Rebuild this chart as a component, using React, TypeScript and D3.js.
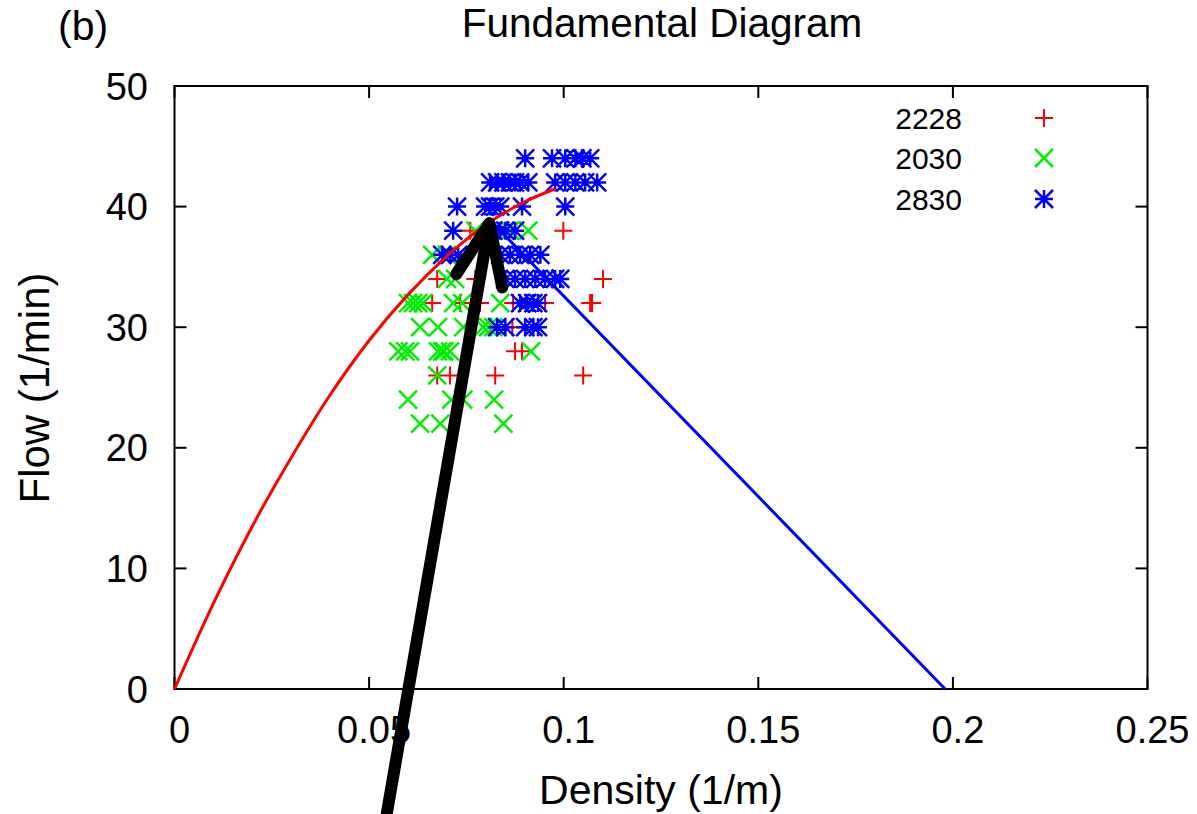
import React from "react";
import * as d3 from "d3";

// ---- data ----
const xTicks = [0, 0.05, 0.1, 0.15, 0.2, 0.25];
const xTickLabels = ["0", "0.05", "0.1", "0.15", "0.2", "0.25"];
const yTicks = [0, 10, 20, 30, 40, 50];
const yTickLabels = ["0", "10", "20", "30", "40", "50"];

const seriesNames = ["2228", "2030", "2830"];

// 2228 (red +)
const redK = [0.076, 0.0999, 0.0675, 0.0773, 0.1101, 0.0662, 0.0734, 0.0785, 0.087, 0.0952, 0.1068, 0.1073, 0.0868, 0.0875, 0.0893, 0.0675, 0.0708, 0.0824, 0.105];
const redQ = [38, 38, 34, 34, 34, 32, 32, 32, 32, 32, 32, 32, 30, 28, 28, 26, 26, 26, 26];

// 2030 (green x)
const greenK = [0.0773, 0.0862, 0.0909, 0.0662, 0.07, 0.07, 0.0721, 0.06, 0.0613, 0.0626, 0.0639, 0.0716, 0.0739, 0.0837, 0.0631, 0.0677, 0.0742, 0.0793, 0.0806, 0.0819, 0.0575, 0.0593, 0.0605, 0.0677, 0.0688, 0.0693, 0.0708, 0.0916, 0.0675, 0.06, 0.0711, 0.0742, 0.0821, 0.0631, 0.0683, 0.0845];
const greenQ = [38, 38, 38, 36, 36, 34, 34, 32, 32, 32, 32, 32, 32, 32, 30, 30, 30, 30, 30, 30, 28, 28, 28, 28, 28, 28, 28, 28, 26, 24, 24, 24, 24, 22, 22, 22];

// 2830 (blue asterisk)
const blueK = [0.0901, 0.097, 0.1004, 0.103, 0.1048, 0.1068, 0.0811, 0.0829, 0.0845, 0.0862, 0.0875, 0.0888, 0.0909, 0.0978, 0.1004, 0.103, 0.1055, 0.1086, 0.0726, 0.0798, 0.0811, 0.0824, 0.0837, 0.0893, 0.1004, 0.0716, 0.0819, 0.0837, 0.085, 0.0875, 0.0688, 0.0708, 0.0729, 0.0837, 0.0862, 0.0888, 0.0914, 0.094, 0.085, 0.0875, 0.0901, 0.0927, 0.0952, 0.0978, 0.0991, 0.0888, 0.0906, 0.0922, 0.0934, 0.0829, 0.085, 0.0901, 0.0922, 0.0934];
const blueQ = [44, 44, 44, 44, 44, 44, 42, 42, 42, 42, 42, 42, 42, 42, 42, 42, 42, 42, 40, 40, 40, 40, 40, 40, 40, 38, 38, 38, 38, 38, 36, 36, 36, 36, 36, 36, 36, 36, 34, 34, 34, 34, 34, 34, 34, 32, 32, 32, 32, 30, 30, 30, 30, 30];

// model curves (read points)
const freeK = [0, 0.01, 0.02, 0.03, 0.04, 0.05, 0.06, 0.07, 0.08, 0.09, 0.098];
const freeQ = [0, 7.1, 13.5, 19.2, 24.4, 28.9, 32.7, 35.9, 38.5, 40.4, 41.5];
const congK = [0.081, 0.198];
const congQ = [38.9, 0];

// annotation arrow (data coords): tail, tip, left wing, right wing
const arrowK = [0.0538, 0.0809, 0.0724, 0.0842];
const arrowQ = [-11.7, 38.6, 34.4, 33.3];

const W = 1197;
const H = 814;
const FONT = "'Liberation Sans', Arial, Helvetica, sans-serif";

export default function App() {
  const x = d3.scaleLinear().domain([0, 0.25]).range([174.5, 1147.5]);
  const y = d3.scaleLinear().domain([0, 50]).range([689, 86]);
  const S = 9; // marker half size

  const line = d3
    .line<[number, number]>()
    .x((d) => x(d[0]))
    .y((d) => y(d[1]))
    .curve(d3.curveMonotoneX);

  const plus = (cx: number, cy: number) => `M${cx - S},${cy}H${cx + S}M${cx},${cy - S}V${cy + S}`;
  const cross = (cx: number, cy: number) =>
    `M${cx - S},${cy - S}L${cx + S},${cy + S}M${cx - S},${cy + S}L${cx + S},${cy - S}`;
  const star = (cx: number, cy: number) => plus(cx, cy) + cross(cx, cy);

  const freePts = freeK.map((k, i) => [k, freeQ[i]] as [number, number]);
  const congPts = congK.map((k, i) => [k, congQ[i]] as [number, number]);

  const tail = [x(arrowK[0]), y(arrowQ[0])];
  const tip = [x(arrowK[1]), y(arrowQ[1])];
  const lw = [x(arrowK[2]), y(arrowQ[2])];
  const rw = [x(arrowK[3]), y(arrowQ[3])];

  const legendY = [118, 158, 199];
  const legendShapes = [plus, cross, star];
  const colors = ["#ff0000", "#00ee00", "#0000ff"];

  return (
    <svg
      width={W}
      height={H}
      style={{ position: "absolute", left: 0, top: 0, background: "#fff" }}
      fontFamily={FONT}
    >
      <rect x={0} y={0} width={W} height={H} fill="#fff" />
      {/* title */}
      <text x={58} y={40} fontSize={41} fill="#000">(b)</text>
      <text x={662} y={37} fontSize={40.5} textAnchor="middle" fill="#000">Fundamental Diagram</text>

      {/* ticks */}
      <g stroke="#000" strokeWidth={2}>
        {xTicks.map((t, i) => (
          <g key={"xt" + i}>
            <line x1={x(t)} x2={x(t)} y1={y(0)} y2={y(0) - 12} />
            <line x1={x(t)} x2={x(t)} y1={y(50)} y2={y(50) + 12} />
          </g>
        ))}
        {yTicks.map((t, i) => (
          <g key={"yt" + i}>
            <line x1={x(0)} x2={x(0) + 12} y1={y(t)} y2={y(t)} />
            <line x1={x(0.25)} x2={x(0.25) - 12} y1={y(t)} y2={y(t)} />
          </g>
        ))}
      </g>
      {xTickLabels.map((l, i) => (
        <text key={"xl" + i} x={x(xTicks[i]) + 5} y={743} fontSize={38} textAnchor="middle" fill="#000">
          {l}
        </text>
      ))}
      {yTickLabels.map((l, i) => (
        <text key={"yl" + i} x={148} y={y(yTicks[i])} dy="0.36em" fontSize={38} textAnchor="end" fill="#000">
          {l}
        </text>
      ))}
      <text x={661} y={804} fontSize={41} textAnchor="middle" fill="#000">Density (1/m)</text>
      <text transform="translate(49,388) rotate(-90)" fontSize={42} textAnchor="middle" fill="#000">
        Flow (1/min)
      </text>

      {/* border */}
      <rect x={x(0)} y={y(50)} width={x(0.25) - x(0)} height={y(0) - y(50)} fill="none" stroke="#000" strokeWidth={2} />

      {/* points */}
      <path d={redK.map((k, i) => plus(x(k), y(redQ[i]))).join("")} stroke={colors[0]} strokeWidth={2} fill="none" />
      <path d={greenK.map((k, i) => cross(x(k), y(greenQ[i]))).join("")} stroke={colors[1]} strokeWidth={2.5} fill="none" />
      <path d={blueK.map((k, i) => star(x(k), y(blueQ[i]))).join("")} stroke={colors[2]} strokeWidth={2.5} fill="none" />

      {/* model lines */}
      <path d={line(freePts) || ""} stroke="#ff0000" strokeWidth={3} fill="none" />
      <path d={line(congPts) || ""} stroke="#0000ff" strokeWidth={3} fill="none" />

      {/* legend */}
      {seriesNames.map((n, i) => (
        <g key={"lg" + i}>
          <text x={962} y={legendY[i]} dy="0.36em" fontSize={30} textAnchor="end" fill="#000">
            {n}
          </text>
          <path d={legendShapes[i](1044, legendY[i])} stroke={colors[i]} strokeWidth={i === 0 ? 2 : 2.5} fill="none" />
        </g>
      ))}

      {/* arrow */}
      <g stroke="#000" strokeWidth={12} strokeLinecap="round" fill="none">
        <line x1={tail[0]} y1={tail[1]} x2={tip[0]} y2={tip[1]} />
        <line x1={lw[0]} y1={lw[1]} x2={tip[0]} y2={tip[1]} />
        <line x1={rw[0]} y1={rw[1]} x2={tip[0]} y2={tip[1]} />
      </g>
    </svg>
  );
}
